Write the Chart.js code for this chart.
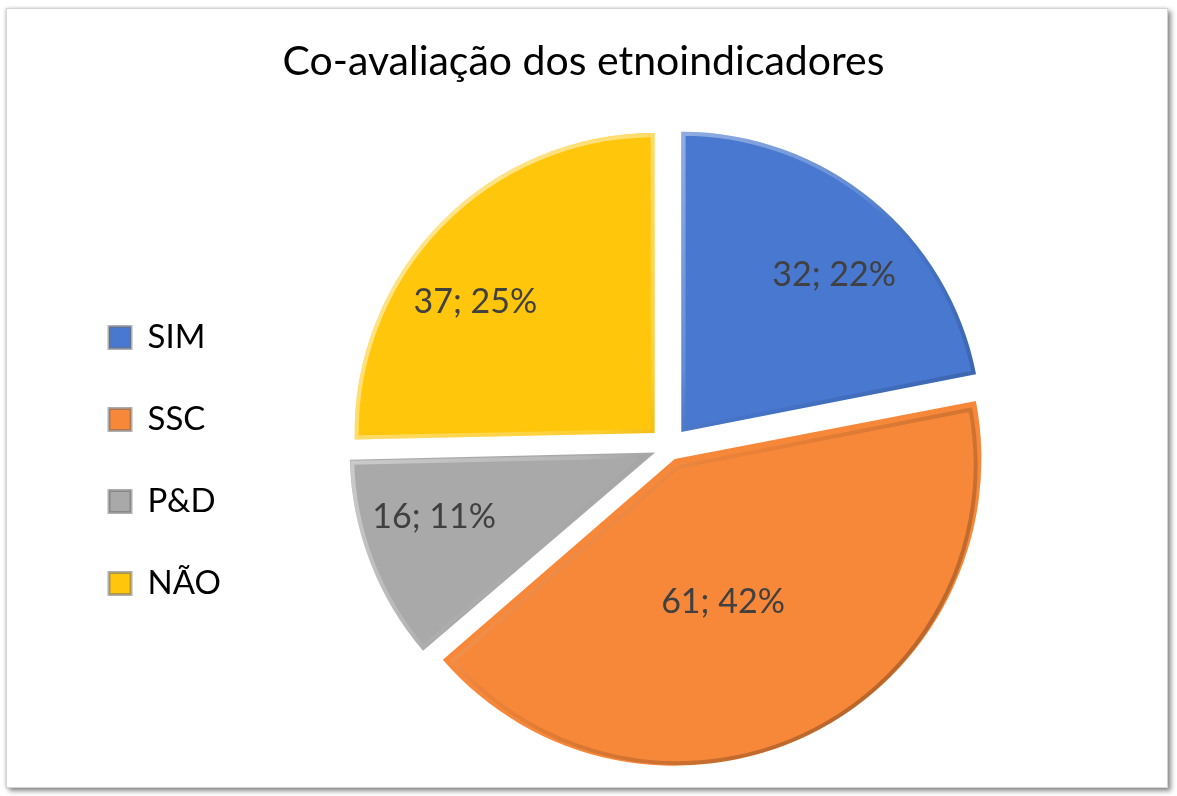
<!DOCTYPE html>
<html>
<head>
<meta charset="utf-8">
<script src="https://cdn.jsdelivr.net/npm/chart.js@4"></script>
<style>
  body { margin: 0; background: #fff; }
  #frame {
    position: absolute; left: 6px; top: 8px;
    width: 1160px; height: 778px;
    border: 1px solid #d4d4d4;
    box-shadow: 3px 3px 5px rgba(0,0,0,0.45), -1px 0 3px rgba(0,0,0,0.15);
    background: #fff;
  }
</style>
</head>
<body>
<div id="frame"><canvas id="pie" width="1160" height="778"></canvas></div>
<script>
const categories = ['SIM', 'SSC', 'P&D', 'NÃO'];
const counts = [32, 61, 16, 37];
const percents = [22, 42, 11, 25];
const colors = ['#4878CF', '#F7883A', '#A9A9A9', '#FFC60B'];
// where each label sits inside its slice (share of the sweep, share of the radius)
const labelAngle = [0.56, 0.55, 0.62, 0.41];
const labelRadius = [0.73, 0.48, 0.75, 0.74];

// same shift that Chart.js applies to an exploded arc
function arcShift(arc) {
  const off = (arc.options.offset || 0) / 4;
  const fix = 1 - Math.sin(Math.min(Math.PI, arc.circumference || 0));
  const t = off + off * fix;
  const mid = (arc.startAngle + arc.endAngle) / 2;
  return {dx: Math.cos(mid) * t, dy: Math.sin(mid) * t};
}

const bevel = {
  id: 'bevel',
  afterDatasetsDraw(chart) {
    const ctx = chart.ctx;
    chart.getDatasetMeta(0).data.forEach(arc => {
      const s = arcShift(arc);
      const cx = arc.x + s.dx, cy = arc.y + s.dy, r = arc.outerRadius;
      ctx.save();
      ctx.beginPath();
      ctx.moveTo(cx, cy);
      ctx.arc(cx, cy, r, arc.startAngle, arc.endAngle);
      ctx.closePath();
      ctx.clip();
      const g = ctx.createLinearGradient(cx - r, cy - r, cx + r, cy + r);
      g.addColorStop(0, 'rgba(255,255,255,0.7)');
      g.addColorStop(0.45, 'rgba(255,255,255,0.15)');
      g.addColorStop(0.55, 'rgba(0,0,0,0.05)');
      g.addColorStop(1, 'rgba(0,0,0,0.35)');
      ctx.lineWidth = 8;
      ctx.strokeStyle = g;
      ctx.stroke();
      ctx.restore();
    });
  }
};

const sliceLabels = {
  id: 'sliceLabels',
  afterDatasetsDraw(chart) {
    const ctx = chart.ctx;
    ctx.save();
    ctx.font = '34px Lato';
    ctx.fillStyle = '#404040';
    ctx.textAlign = 'center';
    ctx.textBaseline = 'middle';
    chart.getDatasetMeta(0).data.forEach((arc, i) => {
      const s = arcShift(arc);
      const a = arc.startAngle + (arc.endAngle - arc.startAngle) * labelAngle[i];
      const d = arc.outerRadius * labelRadius[i];
      const x = arc.x + s.dx + Math.cos(a) * d;
      const y = arc.y + s.dy + Math.sin(a) * d;
      ctx.fillText(counts[i] + '; ' + percents[i] + '%', x, y);
    });
    ctx.restore();
  }
};

new Chart(document.getElementById('pie'), {
  type: 'pie',
  data: {
    labels: categories,
    datasets: [{
      data: counts,
      backgroundColor: colors,
      borderColor: '#ffffff',
      borderWidth: 0,
      offset: [78, 53, 59, 80]
    }]
  },
  options: {
    responsive: false,
    animation: false,
    radius: 300,
    layout: {padding: {left: 53, right: 60, top: 0, bottom: 20}},
    plugins: {
      title: {
        display: true,
        text: 'Co-avaliação dos etnoindicadores',
        color: '#000',
        font: {family: 'Lato', size: 41, weight: 'normal'},
        padding: {top: 28, bottom: 41}
      },
      legend: {
        position: 'left',
        fullSize: false,
        title: {display: true, text: '', font: {size: 10}, padding: {top: 7, bottom: 8}},
        labels: {
          color: '#000',
          font: {family: 'Lato', size: 33},
          boxWidth: 22,
          boxHeight: 22,
          padding: 49,
          generateLabels(chart) {
            return categories.map((c, i) => ({
              text: c,
              fillStyle: colors[i],
              strokeStyle: 'rgba(110,110,110,0.55)',
              fontColor: '#000',
              lineWidth: 3,
              hidden: false,
              index: i
            }));
          }
        }
      },
      tooltip: {enabled: false}
    }
  },
  plugins: [bevel, sliceLabels]
});
</script>
</body>
</html>
